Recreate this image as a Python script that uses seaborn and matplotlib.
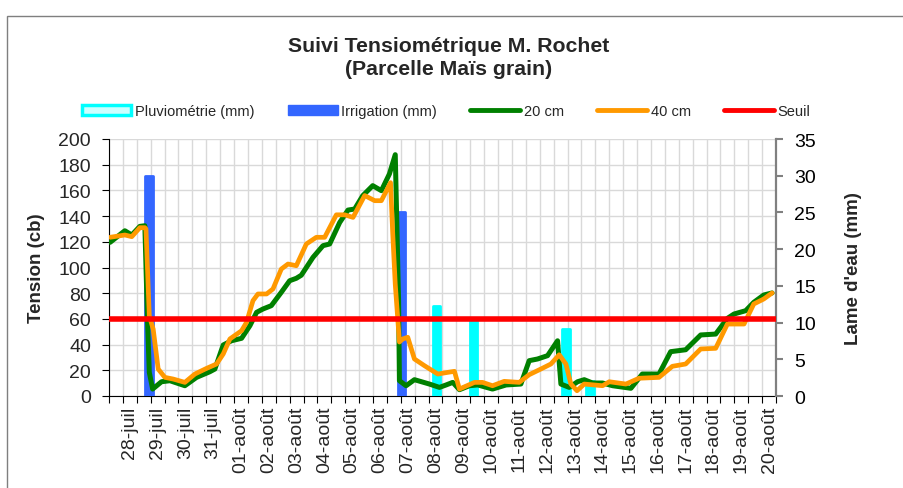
import numpy as np
import matplotlib
matplotlib.use("Agg")
import matplotlib.pyplot as plt
import seaborn as sns
from matplotlib.patches import Patch, Rectangle
from matplotlib.lines import Line2D

sns.set_style("white")
plt.rcParams['font.family'] = ['Liberation Sans', 'DejaVu Sans']

# ---------------- data ----------------
dates = ["28-juil", "29-juil", "30-juil", "31-juil",
         "01-août", "02-août", "03-août", "04-août", "05-août", "06-août",
         "07-août", "08-août", "09-août", "10-août", "11-août", "12-août",
         "13-août", "14-août", "15-août", "16-août", "17-août", "18-août",
         "19-août", "20-août"]

# time in days counted from 28-juil
day_20 = [-0.71, -0.18, 0.07, 0.36, 0.54, 0.63, 0.70, 0.82, 1.14, 1.44, 1.98,
          2.40, 2.88, 3.06, 3.36, 3.66, 4.02, 4.32, 4.56, 4.79, 5.09, 5.45,
          5.75, 5.99, 6.17, 6.59, 6.95, 7.19, 7.55, 7.85, 8.09, 8.38, 8.74,
          9.05, 9.34, 9.55, 9.67, 9.70, 9.94, 10.24, 10.78, 11.14, 11.38,
          11.62, 11.86, 12.22, 12.52, 13.05, 13.54, 14.07, 14.37, 14.67,
          15.03, 15.39, 15.51, 15.81, 16.11, 16.35, 16.65, 17.01, 17.37,
          18.03, 18.44, 19.04, 19.46, 20.00, 20.54, 21.08, 21.50, 21.74,
          22.16, 22.45, 22.81, 23.11]
tension_20 = [119.6, 128.6, 125.3, 132.0, 132.5, 62.5, 18.4, 5.4, 11.1, 11.9, 8.0,
              14.5, 18.9, 21.0, 39.7, 43.0, 44.9, 54.7, 65.1, 67.7, 70.3, 80.7,
              89.7, 91.6, 94.0, 107.9, 117.0, 118.3, 135.0, 144.7, 145.5, 155.9, 163.7,
              159.8, 172.8, 187.8, 74.0, 11.9, 8.0, 12.7, 9.3, 6.7, 8.6,
              10.6, 4.9, 8.0, 8.6, 5.4, 8.6, 9.3, 27.5, 28.8,
              31.4, 43.0, 9.3, 6.7, 11.1, 12.7, 10.1, 10.1, 8.0,
              6.0, 17.1, 17.1, 34.5, 36.0, 47.5, 48.2, 60.4, 63.8,
              66.4, 72.9, 78.6, 80.2]

day_40 = [-0.71, -0.18, 0.07, 0.36, 0.54, 0.58, 0.70, 0.84, 1.02, 1.26, 1.56,
          1.98, 2.34, 2.76, 3.12, 3.36, 3.60, 4.02, 4.20, 4.43, 4.61, 4.92,
          5.15, 5.45, 5.69, 5.99, 6.35, 6.71, 7.01, 7.43, 7.73, 8.03, 8.45,
          8.81, 9.05, 9.38, 9.46, 9.55, 9.70, 9.82, 10.00, 10.24, 10.60,
          11.08, 11.44, 11.68, 11.86, 12.40, 12.69, 13.05, 13.47, 14.01,
          14.37, 14.79, 15.15, 15.45, 15.69, 15.87, 16.09, 16.35, 17.01,
          17.25, 17.85, 18.32, 19.04, 19.52, 20.00, 20.54, 21.08, 21.50,
          22.10, 22.45, 22.81, 23.11]
tension_40 = [123.5, 125.3, 124.0, 131.0, 131.0, 130.0, 62.5, 52.0, 21.0, 14.5, 13.2,
              10.6, 17.1, 21.5, 24.9, 32.7, 44.4, 50.8, 57.4, 74.2, 79.4, 79.4,
              83.3, 98.8, 102.7, 101.4, 118.3, 123.5, 123.5, 141.0, 141.0, 139.0, 156.0,
              152.0, 152.0, 166.0, 126.0, 87.0, 42.0, 44.4, 45.7, 28.8, 23.6,
              17.1, 18.4, 19.2, 5.4, 10.6, 10.6, 8.0, 11.4, 10.6,
              16.6, 21.0, 24.9, 32.1, 24.9, 9.3, 4.1, 9.3, 8.0,
              11.1, 9.3, 13.8, 14.5, 23.1, 24.9, 36.6, 37.1, 56.0,
              56.0, 71.6, 75.5, 80.2]

irrigation_day = [0.69, 9.77]
irrigation_mm = [30.0, 25.0]
pluie_day = [11.03, 12.36, 15.70, 16.56]
pluie_mm = [12.2, 10.3, 9.1, 2.1]
seuil = 60

# ---------------- figure ----------------
W, H = 904, 489
fig = plt.figure(figsize=(W / 100, H / 100), dpi=100)
fig.patch.set_facecolor("white")

pos = [109 / W, (H - 397) / H, 667 / W, 257 / H]
ax = fig.add_axes(pos)           # grid + left axis
ax2 = ax.twinx()                 # bars (right axis)
ax3 = fig.add_axes(pos, sharex=ax, sharey=ax, frameon=False)  # lines on top
ax3.axis("off")

# bars
ax2.bar(irrigation_day, irrigation_mm, width=0.27, color="#3366FF",
        edgecolor="#3366FF", linewidth=2.0, joinstyle="round", zorder=2)
ax2.bar(pluie_day, pluie_mm, width=0.27, color="#00FFFF",
        edgecolor="#00FFFF", linewidth=2.0, joinstyle="round", zorder=2)

# lines
line_kw = dict(sort=False, estimator=None, legend=False,
               solid_joinstyle="round", solid_capstyle="round")
sns.lineplot(x=day_20, y=tension_20, ax=ax3, color="#008000", linewidth=3.6, **line_kw)
sns.lineplot(x=day_40, y=tension_40, ax=ax3, color="#FF9900", linewidth=3.4, **line_kw)
ax3.axhline(seuil, color="#FF0000", linewidth=4.0)

# limits
ax.set_xlim(-0.75, 23.25)
ax.set_ylim(0, 200)
ax2.set_ylim(0, 35)

# left axis
ax.set_yticks(range(0, 201, 20))
ax.tick_params(axis="y", left=True, direction="out", length=5, width=0.8,
               color="black", labelsize=14, pad=8)
# x axis
ax.set_xticks(range(len(dates)))
ax.set_xticklabels(dates, rotation=90)
ax.set_xticks(np.arange(-0.75, 23.3, 0.5), minor=True)
ax.tick_params(axis="x", which="major", bottom=True, length=0, labelsize=14, pad=7)
ax.tick_params(axis="x", which="minor", bottom=True, direction="out", length=5,
               width=0.8, color="black")
ax.grid(False)
ax.grid(True, which="minor", axis="x", color="#d9d9d9", linewidth=1.0)
ax.grid(True, which="major", axis="y", color="#d9d9d9", linewidth=1.0)

for s in ["top", "right"]:
    ax.spines[s].set_visible(False)
ax.spines["left"].set_color("black")
ax.spines["left"].set_linewidth(0.8)
ax.spines["bottom"].set_color("black")
ax.spines["bottom"].set_linewidth(0.8)

# right axis
ax2.set_yticks(range(0, 36, 5))
ax2.tick_params(axis="y", right=True, direction="out", length=5, width=1.5,
                color="#808080", labelcolor="black", labelsize=14, pad=8)
for s in ["top", "left", "bottom"]:
    ax2.spines[s].set_visible(False)
ax2.spines["right"].set_color("#808080")
ax2.spines["right"].set_linewidth(1.6)

ax.set_ylabel("Tension (cb)", fontsize=13.5, fontweight="bold")
ax.yaxis.set_label_coords(-0.096, 0.5)
ax2.set_ylabel("Lame d'eau (mm)", fontsize=13.5, fontweight="bold")
ax2.yaxis.set_label_coords(1.1035, 0.5)

# title
fig.text(449 / W, 1 - 58 / H, "Suivi Tensiométrique M. Rochet\n(Parcelle Maïs grain)",
         ha="center", va="center", fontsize=15.3, fontweight="bold", linespacing=1.25)

# legend
handles = [
    Patch(facecolor="#CCFFFF", edgecolor="#00FFFF", linewidth=2.5, label="Pluviométrie (mm)"),
    Patch(facecolor="#3366FF", edgecolor="#3366FF", label="Irrigation (mm)"),
    Line2D([], [], color="#008000", linewidth=3.5, label="20 cm"),
    Line2D([], [], color="#FF9900", linewidth=3.5, label="40 cm"),
    Line2D([], [], color="#FF0000", linewidth=3.5, label="Seuil"),
]
fig.legend(handles=handles, loc="center", bbox_to_anchor=(446 / W, 1 - 112 / H),
           ncol=5, frameon=False, fontsize=10.5, handlelength=3.4,
           handletextpad=0.25, columnspacing=2.3)

# outer frame
fig.add_artist(Rectangle((7 / W, -0.05), 1.5, 1.05 - 17 / H, transform=fig.transFigure,
                         fill=False, edgecolor="#7f7f7f", linewidth=1.0))

fig.savefig("out.png", dpi=100)
